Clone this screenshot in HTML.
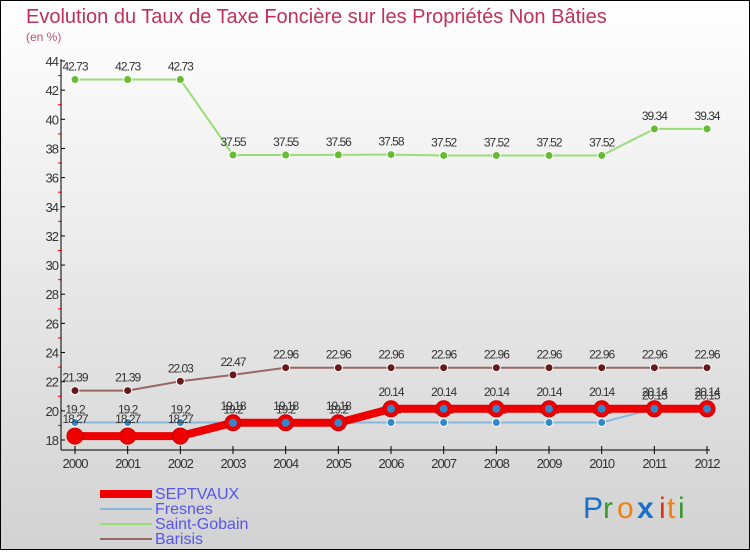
<!DOCTYPE html>
<html><head><meta charset="utf-8"><style>
html,body{margin:0;padding:0;}
body{width:750px;height:550px;overflow:hidden;font-family:"Liberation Sans",sans-serif;}
</style></head><body>
<svg id="c" width="750" height="550" xmlns="http://www.w3.org/2000/svg">
<defs><linearGradient id="bg" x1="0" y1="0" x2="0" y2="1"><stop offset="0" stop-color="#ffffff"/><stop offset="1" stop-color="#d2d2d2"/></linearGradient></defs>
<rect x="0.5" y="0.5" width="749" height="549" fill="url(#bg)" stroke="#000"/>
<text x="26" y="23" font-size="20" fill="#c0305a">Evolution du Taux de Taxe Foncière sur les Propriétés Non Bâties</text>
<text x="26" y="41" font-size="12" fill="#c05078">(en %)</text>
<g id="axes"></g><g id="series"></g><g id="legend"></g>
<g font-size="30" font-family="'Liberation Sans',sans-serif">
<text x="583" y="518" fill="#1a70c8">P</text><text x="603" y="518" fill="#3a9a30">r</text><text x="617" y="518" fill="#f08010">o</text><text x="637" y="518" fill="#1a70c8" font-weight="bold">x</text><text x="659" y="518" fill="#e03010">i</text><text x="667" y="518" fill="#f08010">t</text><text x="678" y="518" fill="#3a9a30">i</text>
</g>
</svg>
<script>
const years=["2000","2001","2002","2003","2004","2005","2006","2007","2008","2009","2010","2011","2012"];
const yTicks=[18,20,22,24,26,28,30,32,34,36,38,40,42,44];
const septvaux=[18.27,18.27,18.27,19.18,19.18,19.18,20.14,20.14,20.14,20.14,20.14,20.14,20.14];
const fresnes=[19.2,19.2,19.2,19.2,19.2,19.2,19.2,19.2,19.2,19.2,19.2,20.15,20.15];
const saintGobain=[42.73,42.73,42.73,37.55,37.55,37.56,37.58,37.52,37.52,37.52,37.52,39.34,39.34];
const barisis=[21.39,21.39,22.03,22.47,22.96,22.96,22.96,22.96,22.96,22.96,22.96,22.96,22.96];
const NS="http://www.w3.org/2000/svg";
const X=i=>75+i*52.67, Y=v=>440-(v-18)*(379/26);
function mk(tag,attrs,parent,txt){const e=document.createElementNS(NS,tag);for(const k in attrs)e.setAttribute(k,attrs[k]);if(txt!==undefined)e.textContent=txt;parent.appendChild(e);return e;}
const ax=document.getElementById('axes');
let e=mk('line',{x1:61,y1:59,x2:61,y2:450,stroke:'#000'},ax);

e=mk('line',{x1:61,y1:450,x2:710,y2:450,stroke:'#000'},ax);

yTicks.forEach((t,i)=>{const y=Y(t);mk('line',{x1:61,y1:y,x2:65,y2:y,stroke:'#000'},ax);
 if(i<yTicks.length-1)mk('line',{x1:58,y1:Y(t+1),x2:62,y2:Y(t+1),stroke:'#e00'},ax);
 e=mk('text',{x:58,y:y+5,'font-size':13,fill:'#333','text-anchor':'end','letter-spacing':'-1'},ax,String(t));
 });
years.forEach((yr,i)=>{const x=X(i);mk('line',{x1:x,y1:446,x2:x,y2:454,stroke:'#000'},ax);
 e=mk('text',{x:x,y:468,'font-size':13,fill:'#333','text-anchor':'middle','letter-spacing':'-1'},ax,yr);
 });
const sg=document.getElementById('series');
const defs=[
 {name:'saint-gobain',data:saintGobain,color:'#99dd77',fill:'#66bb33',w:2,r:4},
 {name:'barisis',data:barisis,color:'#996666',fill:'#661a1a',w:2,r:4},
 {name:'fresnes',data:fresnes,color:'#88b8dd',fill:'#3388cc',w:2,r:4},
 {name:'septvaux',data:septvaux,color:'#ee0000',fill:'#ee0000',w:8,r:8}];
defs.forEach(d=>{const g=mk('g',{},sg);
 const l=mk('polyline',{points:d.data.map((v,i)=>X(i)+','+Y(v)).join(' '),fill:'none',stroke:d.color,'stroke-width':d.w},g);
 
 d.data.forEach((v,i)=>{const c=mk('circle',{cx:X(i),cy:Y(v),r:d.r,fill:d.fill,stroke:d.name==='septvaux'?'#c00':'#fff','stroke-width':1},g);
  
  if(d.name==='septvaux'&&i>=3){mk('circle',{cx:X(i),cy:Y(v),r:4,fill:'#3388cc'},g);}
  const t=mk('text',{x:X(i),y:Y(v)-(d.name==='septvaux'?13:9),'font-size':12,fill:'#333','text-anchor':'middle','letter-spacing':'-1'},g,String(v));
  });});
const lg=document.getElementById('legend');
[['SEPTVAUX','#ee0000',8],['Fresnes','#88b8dd',2],['Saint-Gobain','#99dd77',2],['Barisis','#996666',2]].forEach((it,i)=>{
 const y=493+i*15;const g=mk('g',{},lg);
 mk('line',{x1:100,y1:y+1,x2:152,y2:y+1,stroke:it[1],'stroke-width':it[2]},g);
 mk('text',{x:155,y:y+6,'font-size':16,fill:'#5555ee'},g,it[0]);});
</script>
</body></html>
